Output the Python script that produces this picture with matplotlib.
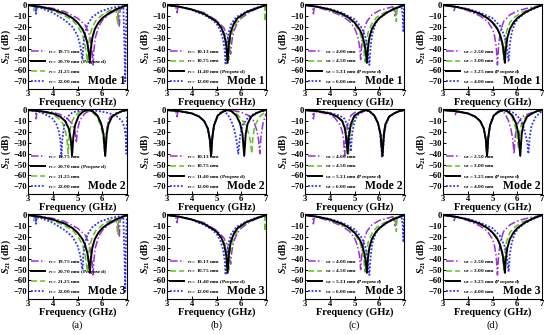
import matplotlib
matplotlib.use("Agg")
import matplotlib.pyplot as plt

# fonts: bold Times-like everywhere
plt.rcParams["font.family"] = "Liberation Serif"
plt.rcParams["font.weight"] = "bold"
plt.rcParams["mathtext.fontset"] = "custom"
plt.rcParams["mathtext.rm"] = "Liberation Serif:bold"
plt.rcParams["mathtext.it"] = "Liberation Serif:italic:bold"
plt.rcParams["mathtext.bf"] = "Liberation Serif:bold"

#* Data (frequency in GHz, S21 in dB)
xticks = [3, 4, 5, 6, 7]
yticks = [0, -10, -20, -30, -40, -50, -60, -70]
panel_tags = ["(a)", "(b)", "(c)", "(d)"]
mode_names = ["Mode 1", "Mode 2", "Mode 3"]

# column (a): r_s sweep
a_labels = ["19.75 mm", "20.70 mm (Proposed)", "21.25 mm", "22.00 mm"]
a1_p_f = [3.0, 3.3, 3.33, 3.36, 3.5, 4.0, 4.5, 5.0, 5.3, 5.45, 5.55, 5.6, 5.63, 5.66, 5.72, 5.85, 6.0, 6.3, 6.6, 6.66, 6.69, 6.72, 6.85, 7.0]
a1_p_s = [0, -0.8, -5, -1, -1.2, -3, -6, -12, -18, -25, -35, -45, -55, -42, -30, -20, -14, -8, -4.5, -12, -20, -4, -2, 0]
a1_k_f = [3.0, 3.5, 4.0, 4.5, 4.8, 5.0, 5.2, 5.3, 5.4, 5.46, 5.5, 5.54, 5.6, 5.7, 5.85, 6.0, 6.3, 6.6, 7.0]
a1_k_s = [0, -1.5, -4, -8, -12, -16, -22, -27, -35, -44, -53, -40, -30, -22, -16, -12, -7, -3.5, 0]
a1_g_f = [3.0, 3.2, 3.23, 3.26, 3.5, 4.0, 4.5, 4.8, 5.0, 5.2, 5.3, 5.36, 5.4, 5.44, 5.5, 5.6, 5.75, 6.0, 6.3, 6.55, 6.6, 6.63, 6.66, 6.8, 7.0]
a1_g_s = [0, -0.8, -5, -1, -2, -5, -10, -14, -19, -27, -36, -44, -52, -38, -28, -20, -14, -9, -5, -3, -12, -18, -3, -1.5, 0]
a1_b_f = [3.0, 3.3, 3.32, 3.35, 3.5, 4.0, 4.5, 4.8, 5.0, 5.1, 5.16, 5.2, 5.24, 5.3, 5.4, 5.6, 5.9, 6.3, 6.6, 6.85, 6.9, 6.93, 6.96, 7.0]
a1_b_s = [0, -1.5, -8, -2, -2.5, -7, -14, -20, -28, -36, -44, -50, -36, -26, -18, -11, -6, -3, -1.5, -1, -40, -70, -20, 0]

a2_p_f = [3.0, 3.3, 3.33, 3.36, 3.5, 4.0, 4.3, 4.6, 4.8, 4.9, 4.95, 5.0, 5.1, 5.3, 5.5, 5.7, 5.9, 6.05, 6.12, 6.16, 6.2, 6.3, 6.5, 6.8, 7.0]
a2_p_s = [0, -0.5, -8, -1, -1, -2, -4, -8, -13, -20, -30, -18, -9, -3, -0.5, -2, -8, -20, -42, -25, -14, -7, -3, -1, 0]
a2_k_f = [3.0, 3.5, 4.0, 4.3, 4.5, 4.65, 4.73, 4.78, 4.83, 4.9, 5.05, 5.25, 5.45, 5.6, 5.8, 5.95, 6.05, 6.12, 6.18, 6.25, 6.4, 6.6, 6.8, 7.0]
a2_k_s = [0, -1, -3, -6, -10, -17, -27, -42, -25, -14, -5, -1, 0, -1, -5, -12, -22, -42, -22, -13, -6, -3, -1, 0]
a2_g_f = [3.0, 3.5, 4.0, 4.2, 4.4, 4.52, 4.58, 4.62, 4.66, 4.75, 4.9, 5.1, 5.35, 5.55, 5.75, 5.92, 6.03, 6.1, 6.16, 6.25, 6.4, 6.6, 6.8, 7.0]
a2_g_s = [0, -1, -4, -7, -12, -20, -28, -40, -24, -12, -5, -1.5, 0, -1, -5, -13, -23, -40, -22, -12, -6, -3, -1, 0]
a2_b_f = [3.0, 3.5, 3.8, 4.0, 4.15, 4.25, 4.31, 4.35, 4.39, 4.47, 4.6, 4.8, 5.1, 5.4, 5.7, 6.0, 6.3, 6.6, 6.8, 6.9, 6.95, 6.98, 7.0]
a2_b_s = [0, -2, -5, -8, -13, -20, -28, -43, -26, -14, -6, -2, -0.5, 0, -0.5, -1.5, -3, -6, -10, -16, -25, -40, -5]

# column (b): r_s sweep
b_labels = ["10.13 mm", "10.75 mm", "11.40 mm (Proposed)", "12.00 mm"]
b1_p_f = [3.0, 3.35, 3.4, 3.45, 3.6, 4.0, 4.5, 5.0, 5.3, 5.45, 5.52, 5.57, 5.62, 5.7, 5.85, 6.0, 6.3, 6.6, 7.0]
b1_p_s = [0, -1, -7, -1.5, -2, -4, -7, -14, -21, -29, -36, -45, -33, -24, -16, -12, -7, -3.5, 0]
b1_g_f = [3.0, 3.5, 4.0, 4.5, 5.0, 5.25, 5.38, 5.45, 5.5, 5.55, 5.62, 5.75, 5.9, 6.2, 6.6, 6.95, 6.97, 6.99, 7.0]
b1_g_s = [0, -1.5, -4, -8, -15, -22, -30, -38, -50, -36, -26, -18, -13, -7, -3, -0.5, -15, -3, 0]
b1_k_f = [3.0, 3.5, 4.0, 4.5, 5.0, 5.2, 5.32, 5.4, 5.45, 5.5, 5.57, 5.7, 5.85, 6.2, 6.6, 7.0]
b1_k_s = [0, -1.5, -4, -8, -15, -21, -28, -38, -53, -36, -25, -17, -12, -6.5, -3, 0]
b1_b_f = [3.0, 3.5, 4.0, 4.5, 4.8, 5.0, 5.15, 5.26, 5.33, 5.37, 5.41, 5.48, 5.6, 5.8, 6.2, 6.6, 7.0]
b1_b_s = [0, -1.5, -4.5, -9, -13, -17, -23, -31, -41, -55, -38, -26, -17, -11, -6, -2.5, 0]

b2_p_f = [3.0, 3.35, 3.4, 3.45, 3.6, 4.0, 4.3, 4.5, 4.65, 4.74, 4.8, 4.85, 4.92, 5.05, 5.25, 5.45, 5.7, 6.0, 6.3, 6.5, 6.62, 6.7, 6.75, 6.8, 6.88, 7.0]
b2_p_s = [0, -0.5, -6, -1, -1, -3, -6, -10, -17, -27, -40, -24, -13, -5, -1.5, 0, -0.5, -2, -5, -10, -18, -27, -40, -24, -12, -3]
b2_g_f = [3.0, 3.5, 4.0, 4.3, 4.5, 4.65, 4.73, 4.78, 4.83, 4.9, 5.05, 5.25, 5.45, 5.6, 5.8, 6.0, 6.2, 6.32, 6.38, 6.42, 6.47, 6.55, 6.75, 7.0]
b2_g_s = [0, -1, -3, -6, -10, -17, -27, -42, -25, -14, -5, -1.5, 0, -0.5, -3, -8, -15, -23, -30, -40, -25, -14, -6, -1]
b2_k_f = [3.0, 3.5, 4.0, 4.3, 4.5, 4.65, 4.73, 4.78, 4.83, 4.9, 5.05, 5.25, 5.45, 5.6, 5.8, 5.95, 6.05, 6.12, 6.18, 6.25, 6.4, 6.6, 6.8, 7.0]
b2_k_s = [0, -1, -3, -6, -10, -17, -27, -42, -25, -14, -5, -1.5, 0, -1, -5, -12, -22, -42, -22, -13, -6, -3, -1, 0]
b2_b_f = [3.0, 3.5, 4.0, 4.3, 4.5, 4.65, 4.73, 4.78, 4.83, 4.9, 5.05, 5.2, 5.3, 5.45, 5.6, 5.72, 5.8, 5.88, 5.95, 6.05, 6.3, 6.6, 7.0]
b2_b_s = [0, -1, -3, -6, -10, -17, -27, -40, -25, -14, -5, -1.5, -1, -4, -10, -18, -27, -40, -24, -14, -6, -2.5, 0]

# column (c): w_s sweep
c_labels = ["4.00 mm", "4.50 mm", "5.31 mm (Proposed)", "6.00 mm"]
c1_p_f = [3.0, 3.3, 3.34, 3.38, 3.5, 4.0, 4.5, 4.8, 5.0, 5.12, 5.2, 5.25, 5.3, 5.38, 5.5, 5.7, 6.0, 6.3, 6.55, 6.62, 6.65, 6.68, 6.8, 7.0]
c1_p_s = [0, -1, -8, -1.5, -2, -5.5, -10, -15, -21, -28, -37, -50, -34, -23, -15, -9, -5, -3, -1.5, -6, -10, -2, -1, 0]
c1_g_f = [3.0, 3.5, 4.0, 4.5, 4.8, 5.0, 5.2, 5.32, 5.38, 5.42, 5.46, 5.55, 5.7, 5.9, 6.2, 6.5, 6.66, 6.69, 6.72, 6.85, 7.0]
c1_g_s = [0, -1.5, -4.5, -9, -13, -17, -24, -33, -42, -52, -38, -25, -17, -11, -7, -4, -2, -15, -2, -1, 0]
c1_k_f = [3.0, 3.5, 4.0, 4.5, 4.8, 5.0, 5.2, 5.3, 5.4, 5.46, 5.5, 5.54, 5.6, 5.7, 5.85, 6.0, 6.3, 6.6, 7.0]
c1_k_s = [0, -1.5, -4, -8, -12, -16, -22, -27, -35, -44, -53, -40, -30, -22, -16, -12, -7, -3.5, 0]
c1_b_f = [3.0, 3.5, 4.0, 4.5, 5.0, 5.3, 5.45, 5.53, 5.6, 5.65, 5.72, 5.85, 6.0, 6.3, 6.6, 6.9, 6.95, 6.98, 7.0]
c1_b_s = [0, -1.5, -3.5, -7, -13, -21, -30, -40, -55, -38, -26, -17, -12, -7, -3.5, -1, -10, -25, 0]

c2_p_f = [3.0, 3.3, 3.34, 3.38, 3.5, 4.0, 4.2, 4.4, 4.5, 4.56, 4.6, 4.65, 4.72, 4.85, 5.05, 5.25, 5.45, 5.6, 5.8, 5.95, 6.03, 6.1, 6.16, 6.25, 6.4, 6.6, 6.8, 7.0]
c2_p_s = [0, -1, -8, -1.5, -1.5, -4, -7, -13, -19, -27, -42, -25, -13, -5, -1.5, -3, 0, -1, -5, -12, -22, -43, -22, -13, -6, -3, -1, 0]
c2_g_f = [3.0, 3.5, 4.0, 4.3, 4.5, 4.63, 4.71, 4.76, 4.81, 4.9, 5.05, 5.25, 5.45, 5.6, 5.8, 5.95, 6.05, 6.12, 6.18, 6.25, 6.4, 6.6, 6.8, 7.0]
c2_g_s = [0, -1, -3, -6, -9, -16, -26, -40, -24, -13, -5, -1.5, 0, -1, -5, -12, -22, -41, -22, -13, -6, -3, -1, 0]
c2_k_f = [3.0, 3.5, 4.0, 4.3, 4.5, 4.6, 4.67, 4.72, 4.77, 4.85, 5.0, 5.25, 5.45, 5.6, 5.8, 5.95, 6.05, 6.13, 6.19, 6.25, 6.4, 6.6, 6.8, 7.0]
c2_k_s = [0, -1, -3, -6, -10, -16, -26, -40, -24, -13, -5, -1.5, 0, -1, -5, -12, -22, -42, -22, -13, -6, -3, -1, 0]
c2_b_f = [3.0, 3.5, 4.0, 4.4, 4.6, 4.73, 4.8, 4.85, 4.9, 4.98, 5.1, 5.3, 5.45, 5.6, 5.8, 5.95, 6.06, 6.14, 6.2, 6.27, 6.4, 6.6, 6.8, 7.0]
c2_b_s = [0, -1, -2.5, -5, -8, -15, -24, -38, -23, -12, -5, -1.5, 0, -1, -5, -12, -22, -42, -22, -13, -6, -3, -1, 0]

# column (d): w_s sweep
d_labels = ["2.50 mm", "3.00 mm", "3.25 mm (Proposed)", "4.00 mm"]
d1_p_f = [3.0, 3.4, 3.45, 3.5, 3.6, 4.0, 4.5, 4.8, 5.0, 5.08, 5.15, 5.2, 5.25, 5.32, 5.45, 5.7, 6.0, 6.3, 6.6, 7.0]
d1_p_s = [0, -1, -5, -1.5, -2, -5, -10, -15, -22, -28, -38, -55, -36, -24, -15, -9, -5.5, -3.5, -2, 0]
d1_g_f = [3.0, 3.5, 4.0, 4.5, 5.0, 5.2, 5.33, 5.4, 5.45, 5.5, 5.57, 5.7, 5.9, 6.2, 6.6, 7.0]
d1_g_s = [0, -1.5, -4, -8, -15, -21, -29, -38, -50, -35, -24, -16, -11, -6.5, -3, 0]
d1_k_f = [3.0, 3.5, 4.0, 4.5, 4.8, 5.0, 5.2, 5.3, 5.4, 5.46, 5.5, 5.54, 5.6, 5.7, 5.85, 6.0, 6.3, 6.6, 7.0]
d1_k_s = [0, -1.5, -4, -8, -12, -16, -22, -27, -35, -44, -53, -40, -30, -22, -16, -12, -7, -3.5, 0]
d1_b_f = [3.0, 3.5, 4.0, 4.5, 5.0, 5.3, 5.48, 5.58, 5.65, 5.7, 5.78, 5.9, 6.05, 6.3, 6.6, 7.0]
d1_b_s = [0, -1.5, -3.5, -7, -12, -19, -28, -38, -52, -36, -25, -17, -12, -7.5, -4, 0]

d2_p_f = [3.0, 3.45, 3.5, 3.55, 3.7, 4.0, 4.3, 4.5, 4.65, 4.73, 4.78, 4.83, 4.9, 5.05, 5.2, 5.35, 5.5, 5.65, 5.75, 5.82, 5.87, 5.92, 6.0, 6.2, 6.5, 6.8, 7.0]
d2_p_s = [0, -1, -4, -1, -1.5, -3, -6, -10, -17, -27, -42, -25, -14, -5, -1.5, -0.5, -3, -10, -18, -27, -40, -24, -13, -6, -3, -1, 0]
d2_g_f = [3.0, 3.5, 4.0, 4.3, 4.5, 4.65, 4.73, 4.78, 4.83, 4.9, 5.05, 5.25, 5.45, 5.6, 5.78, 5.9, 5.98, 6.05, 6.1, 6.18, 6.35, 6.6, 6.8, 7.0]
d2_g_s = [0, -1, -3, -6, -10, -17, -27, -42, -25, -14, -5, -1.5, 0, -1.5, -6, -13, -22, -35, -20, -12, -6, -3, -1, 0]
d2_k_f = [3.0, 3.5, 4.0, 4.3, 4.5, 4.65, 4.73, 4.78, 4.83, 4.9, 5.05, 5.25, 5.45, 5.6, 5.8, 5.95, 6.05, 6.12, 6.18, 6.25, 6.4, 6.6, 6.8, 7.0]
d2_k_s = [0, -1, -3, -6, -10, -17, -27, -42, -25, -14, -5, -1.5, 0, -1, -5, -12, -22, -42, -22, -13, -6, -3, -1, 0]
d2_b_f = [3.0, 3.5, 4.0, 4.3, 4.5, 4.65, 4.73, 4.78, 4.83, 4.9, 5.05, 5.25, 5.45, 5.65, 5.9, 6.1, 6.25, 6.35, 6.41, 6.45, 6.5, 6.58, 6.75, 7.0]
d2_b_s = [0, -1, -3, -6, -10, -17, -27, -42, -25, -14, -5, -1.5, 0, -0.5, -3, -8, -15, -24, -30, -40, -25, -14, -6, -1]

#* Styles
sty = {
    "p": dict(color="#9B30D9", ls=(0, (5, 1.5, 1, 1.5)), lw=1.1),
    "g": dict(color="#5CC41E", ls=(0, (4, 2)), lw=1.1),
    "k": dict(color="black", ls="-", lw=1.4),
    "b": dict(color="#2E2EFF", ls=(0, (1, 1)), lw=1.3),
}

# legend order, style key, f, s per column/mode
cols = [
    dict(var=r"$r_s$", labels=a_labels, keys=["p", "k", "g", "b"],
         m1=[(a1_p_f, a1_p_s), (a1_k_f, a1_k_s), (a1_g_f, a1_g_s), (a1_b_f, a1_b_s)],
         m2=[(a2_p_f, a2_p_s), (a2_k_f, a2_k_s), (a2_g_f, a2_g_s), (a2_b_f, a2_b_s)]),
    dict(var=r"$r_s$", labels=b_labels, keys=["p", "g", "k", "b"],
         m1=[(b1_p_f, b1_p_s), (b1_g_f, b1_g_s), (b1_k_f, b1_k_s), (b1_b_f, b1_b_s)],
         m2=[(b2_p_f, b2_p_s), (b2_g_f, b2_g_s), (b2_k_f, b2_k_s), (b2_b_f, b2_b_s)]),
    dict(var=r"$w_s$", labels=c_labels, keys=["p", "g", "k", "b"],
         m1=[(c1_p_f, c1_p_s), (c1_g_f, c1_g_s), (c1_k_f, c1_k_s), (c1_b_f, c1_b_s)],
         m2=[(c2_p_f, c2_p_s), (c2_g_f, c2_g_s), (c2_k_f, c2_k_s), (c2_b_f, c2_b_s)]),
    dict(var=r"$w_s$", labels=d_labels, keys=["p", "g", "k", "b"],
         m1=[(d1_p_f, d1_p_s), (d1_g_f, d1_g_s), (d1_k_f, d1_k_s), (d1_b_f, d1_b_s)],
         m2=[(d2_p_f, d2_p_s), (d2_g_f, d2_g_s), (d2_k_f, d2_k_s), (d2_b_f, d2_b_s)]),
]

fig = plt.figure(figsize=(5.5, 3.35), dpi=100)
lefts = [28, 167, 305, 443]
bottoms = [89, 194, 299]
W, H = 99, 85

for ci, col in enumerate(cols):
    for ri in range(3):
        ax = fig.add_axes([lefts[ci] / 550, 1 - bottoms[ri] / 335, W / 550, H / 335])
        curves = col["m2"] if ri == 1 else col["m1"]   # mode 3 looks like mode 1
        # draw black last so it sits on top
        order = [i for i in range(4) if col["keys"][i] != "k"] + [col["keys"].index("k")]
        handles = {}
        for i in order:
            f, s = curves[i]
            lab = col["var"] + " = " + col["labels"][i]
            h, = ax.plot(f, s, label=lab, **sty[col["keys"][i]])
            handles[i] = h
        ax.set_xlim(3, 7)
        ax.set_ylim(-77, 1)
        ax.set_xticks(xticks)
        ax.set_yticks(yticks)
        ax.tick_params(direction="in", labelsize=6.2, length=2, pad=0.8, width=0.7)
        for lbl in ax.get_xticklabels() + ax.get_yticklabels():
            lbl.set_fontweight("bold")
        for sp in ax.spines.values():
            sp.set_linewidth(0.8)
        ax.set_xlabel("Frequency (GHz)", fontsize=7.5, fontweight="bold", labelpad=-0.5)
        ax.set_ylabel(r"$S_{21}$ (dB)", fontsize=7, fontweight="bold", labelpad=0.5)
        ax.legend([handles[i] for i in range(4)], [handles[i].get_label() for i in range(4)],
                  loc="lower left", fontsize=3.8, frameon=False, handlelength=2.6,
                  borderaxespad=0.2, labelspacing=0.45, handletextpad=0.5)
        ax.text(0.99, 0.02, mode_names[ri], transform=ax.transAxes, ha="right", va="bottom",
                fontsize=8.5, fontweight="bold")
    fig.text((lefts[ci] + W / 2) / 550, 1 - 325 / 335, panel_tags[ci], ha="center", va="center",
             fontsize=7.5, fontweight="normal")

fig.savefig("out.png", dpi=100)
